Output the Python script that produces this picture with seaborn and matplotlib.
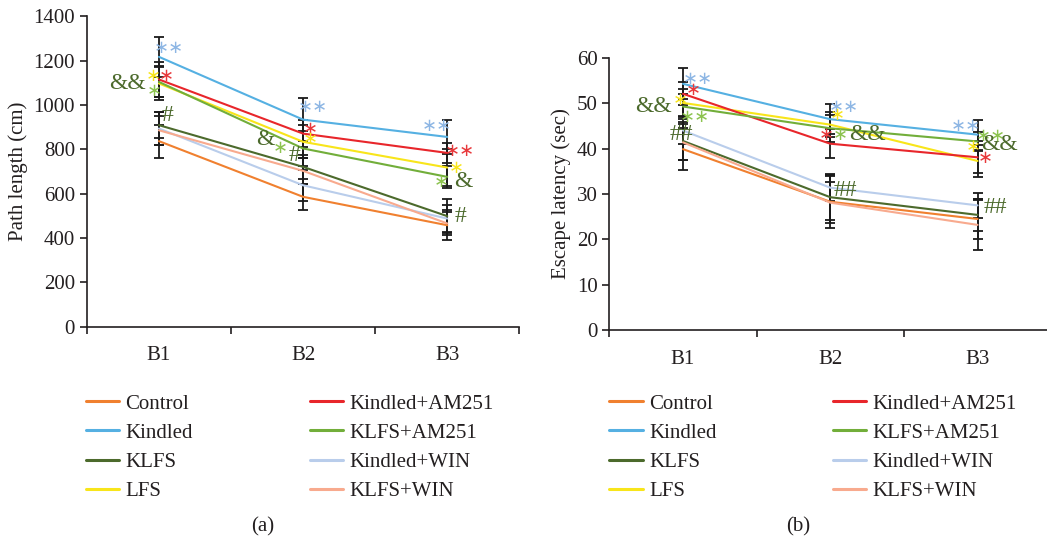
import matplotlib
matplotlib.use("Agg")
import matplotlib.pyplot as plt
from matplotlib.ticker import FixedLocator
import pandas as pd
import seaborn as sns

# data
blocks = ["B1", "B2", "B3"]
groups = ["Control", "Kindled", "KLFS", "LFS",
          "Kindled+AM251", "KLFS+AM251", "Kindled+WIN", "KLFS+WIN"]
colors = ["#F0802F", "#55B0E2", "#4C6A2C", "#F8E51A",
          "#E8262B", "#72AE3A", "#B9CDEB", "#F8AA8E"]

path_mean = {
    "Control": [837, 586, 458],
    "Kindled": [1217, 934, 856],
    "KLFS": [909, 721, 499],
    "LFS": [1097, 834, 718],
    "Kindled+AM251": [1115, 871, 784],
    "KLFS+AM251": [1104, 804, 676],
    "Kindled+WIN": [894, 638, 488],
    "KLFS+WIN": [886, 703, 466],
}
path_err = {
    "Control": [75, 60, 67],
    "Kindled": [90, 98, 75],
    "KLFS": [60, 55, 75],
    "LFS": [75, 75, 85],
    "Kindled+AM251": [80, 60, 45],
    "KLFS+AM251": [70, 80, 50],
    "Kindled+WIN": [75, 70, 60],
    "KLFS+WIN": [65, 60, 50],
}
lat_mean = {
    "Control": [39.9, 28.3, 24.5],
    "Kindled": [54.3, 46.5, 43.1],
    "KLFS": [41.7, 29.3, 25.4],
    "LFS": [50.1, 45.3, 37.3],
    "Kindled+AM251": [52.1, 41.1, 38.1],
    "KLFS+AM251": [49.3, 44.5, 41.6],
    "Kindled+WIN": [44.0, 31.4, 27.5],
    "KLFS+WIN": [41.4, 28.1, 23.2],
}
lat_err = {
    "Control": [4.7, 5.7, 4.5],
    "Kindled": [3.4, 3.3, 3.3],
    "KLFS": [4.2, 5.0, 3.5],
    "LFS": [3.0, 2.8, 3.5],
    "Kindled+AM251": [2.5, 3.2, 3.5],
    "KLFS+AM251": [2.8, 3.0, 2.0],
    "Kindled+WIN": [3.0, 3.0, 2.8],
    "KLFS+WIN": [4.0, 4.5, 5.5],
}

# significance marks: (text, x, y, colour)
c_blue, c_red, c_yel, c_lg, c_dg = "#8DB6E4", "#E8383B", "#F8E51A", "#8CC34F", "#4C6A2C"
path_marks = [
    ("∗∗", 0.07, 1257, c_blue), ("∗", -0.04, 1132, c_yel), ("∗", 0.05, 1130, c_red),
    ("&&", -0.22, 1097, c_dg), ("∗", -0.03, 1065, c_lg), ("#", 0.06, 954, c_dg),
    ("∗∗", 1.07, 991, c_blue), ("∗", 1.05, 894, c_red), ("∗", 1.05, 847, c_yel),
    ("&", 0.74, 844, c_dg), ("∗", 0.84, 805, c_lg), ("#", 0.94, 772, c_dg),
    ("∗∗", 1.93, 904, c_blue), ("∗∗", 2.09, 793, c_red), ("∗", 2.06, 717, c_yel),
    ("∗", 1.96, 653, c_lg), ("&", 2.11, 653, c_dg), ("#", 2.09, 499, c_dg),
]
lat_marks = [
    ("∗∗", 0.10, 55.4, c_blue), ("∗", 0.07, 52.9, c_red), ("∗", -0.02, 50.7, c_yel),
    ("&&", -0.20, 49.2, c_dg), ("∗∗", 0.08, 47.0, c_lg), ("##", -0.01, 43.1, c_dg),
    ("∗∗", 1.09, 49.1, c_blue), ("∗", 1.05, 47.4, c_yel), ("∗", 0.97, 43.1, c_red),
    ("∗", 1.07, 43.1, c_lg), ("&&", 1.25, 43.2, c_dg), ("##", 1.10, 30.8, c_dg),
    ("∗∗", 1.92, 45.1, c_blue), ("∗∗", 2.09, 42.9, c_lg), ("∗", 1.97, 40.4, c_yel),
    ("&&", 2.15, 40.9, c_dg), ("∗", 2.05, 38.0, c_red), ("##", 2.12, 27.0, c_dg),
]

sns.set_style("ticks")
plt.rcParams["font.family"] = ["Liberation Serif", "DejaVu Sans"]
plt.rcParams["text.color"] = "#231F20"
plt.rcParams["axes.labelcolor"] = "#231F20"
plt.rcParams["xtick.color"] = "#231F20"
plt.rcParams["ytick.color"] = "#231F20"

palette = dict(zip(groups, colors))


def to_long(means):
    rows = []
    for g in groups:
        for b, v in zip(blocks, means[g]):
            rows.append({"block": b, "group": g, "value": v})
    return pd.DataFrame(rows)


def draw_panel(ax, means, errs, marks, ylim, ystep, ylabel, caption, leg_x, leg_y, cap_x):
    df = to_long(means)
    sns.lineplot(data=df, x="block", y="value", hue="group", hue_order=groups,
                 palette=palette, linewidth=1.5, ax=ax, legend=False, zorder=3)
    for g in groups:
        ax.errorbar(range(len(blocks)), means[g], yerr=errs[g], fmt="none",
                    ecolor="#1a1a1a", elinewidth=1.3, capsize=3.5, capthick=1.3, zorder=2)
    for txt, x, y, c in marks:
        fam = ["DejaVu Sans"] if "∗" in txt else ["Liberation Serif"]
        size = 13 if "∗" in txt else 17
        ax.text(x, y, txt, color=c, fontsize=size, ha="center", va="center",
                family=fam, zorder=4)
    ax.set_xlim(-0.5, 2.5)
    ax.set_ylim(*ylim)
    ax.yaxis.set_major_locator(FixedLocator(list(range(ylim[0], ylim[1] + 1, ystep))))
    ax.xaxis.set_major_locator(FixedLocator([0, 1, 2]))
    ax.xaxis.set_minor_locator(FixedLocator([-0.5, 0.5, 1.5, 2.5]))
    ax.set_xticklabels(blocks)
    ax.tick_params(axis="x", which="major", length=0, pad=14, labelsize=15)
    ax.tick_params(axis="x", which="minor", length=5, width=1.2, direction="out")
    ax.tick_params(axis="y", length=5, width=1.2, direction="out", labelsize=15)
    ax.set_xlabel("")
    ax.set_ylabel(ylabel, fontsize=15)
    for s in ("left", "bottom"):
        ax.spines[s].set_linewidth(1.2)
        ax.spines[s].set_color("#231F20")
    sns.despine(ax=ax)
    handles = [plt.Line2D([], [], color=palette[g], lw=2.2) for g in groups]
    fig = ax.figure
    ax.legend(handles, groups, ncol=2, frameon=False, fontsize=15,
              loc="upper left", bbox_to_anchor=(leg_x, leg_y),
              bbox_transform=fig.transFigure, borderpad=0, borderaxespad=0,
              handlelength=1.6, handletextpad=0.3, columnspacing=5.6,
              labelspacing=0.46)
    fig.text(cap_x, 0.028, caption, fontsize=15, ha="center", va="center")


fig = plt.figure(figsize=(10.47, 5.42), dpi=100)
ax1 = fig.add_axes([0.083, 0.397, 0.413, 0.573])
ax2 = fig.add_axes([0.582, 0.391, 0.422, 0.502])

draw_panel(ax1, path_mean, path_err, path_marks, (0, 1400), 200,
           "Path length (cm)", "(a)", 0.082, 0.273, 0.251)
draw_panel(ax2, lat_mean, lat_err, lat_marks, (0, 60), 10,
           "Escape latency (sec)", "(b)", 0.582, 0.273, 0.762)

fig.savefig("out.png", dpi=100)
